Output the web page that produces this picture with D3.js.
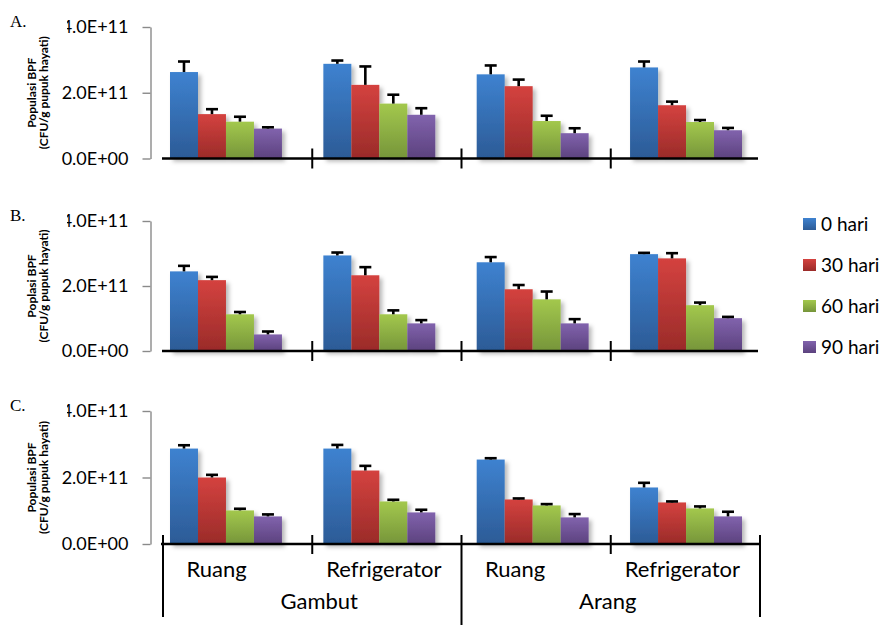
<!DOCTYPE html>
<html>
<head>
<meta charset="utf-8">
<script src="https://cdn.jsdelivr.net/npm/d3@7"></script>
<style>
  html, body { margin: 0; padding: 0; background: #ffffff; }
  svg { display: block; }
</style>
</head>
<body>
<div id="chart"></div>
<script>
// ---------------- DATA ----------------
const panelLabels = ["A.", "B.", "C."];
const yTitleLine1 = ["Populasi BPF", "Poplasi  BPF", "Populasi BPF"];
const yTitleLine2 = "(CFU/g pupuk hayati)";
const series = ["0 hari", "30 hari", "60 hari", "90 hari"];
const subCategories = ["Ruang", "Refrigerator", "Ruang", "Refrigerator"];
const mainCategories = ["Gambut", "Arang"];
const tickValues = [0, 2e11, 4e11];
const tickLabels = ["0.0E+00", "2.0E+11", "4.0E+11"];

// values (x 1e11), rows = groups (Gambut-Ruang, Gambut-Refrigerator, Arang-Ruang, Arang-Refrigerator), cols = series
const valuesA = [[2.63, 1.35, 1.12, 0.91], [2.88, 2.24, 1.67, 1.33], [2.56, 2.20, 1.14, 0.77], [2.77, 1.62, 1.11, 0.86]];
const errorsA = [[0.32, 0.15, 0.15, 0.04], [0.10, 0.56, 0.27, 0.20], [0.27, 0.20, 0.16, 0.15], [0.18, 0.11, 0.06, 0.07]];
const valuesB = [[2.45, 2.18, 1.13, 0.51], [2.94, 2.33, 1.13, 0.85], [2.73, 1.90, 1.59, 0.85], [2.98, 2.85, 1.41, 1.01]];
const errorsB = [[0.17, 0.10, 0.07, 0.09], [0.09, 0.25, 0.12, 0.10], [0.16, 0.13, 0.24, 0.13], [0.04, 0.16, 0.08, 0.04]];
const valuesC = [[2.87, 2.00, 1.01, 0.83], [2.87, 2.21, 1.28, 0.95], [2.54, 1.34, 1.16, 0.80], [1.70, 1.25, 1.07, 0.83]];
const errorsC = [[0.10, 0.08, 0.05, 0.06], [0.11, 0.14, 0.05, 0.08], [0.04, 0.03, 0.04, 0.10], [0.14, 0.03, 0.06, 0.14]];
const panelValues = [valuesA, valuesB, valuesC];
const panelErrors = [errorsA, errorsB, errorsC];
const UNIT = 1e11;

// ---------------- STYLE / LAYOUT ----------------
const W = 882, H = 625;
const colorsTop = ["#3e82d0", "#d4423f", "#a3c84d", "#8163ad"];
const colorsBot = ["#2c5b96", "#9a2b29", "#76953a", "#5c427e"];
const panelY = [ {y0: 158.5, y1: 27}, {y0: 351, y1: 221}, {y0: 544, y1: 411} ];
const yAxisX = 150.5;
const FONT = "Lato, 'Open Sans', sans-serif";

const svg = d3.select("#chart").append("svg").attr("width", W).attr("height", H);
const defs = svg.append("defs");
series.forEach((s, i) => {
  const g = defs.append("linearGradient").attr("id", "grad" + i)
    .attr("x1", 0).attr("y1", 0).attr("x2", 0).attr("y2", 1);
  g.append("stop").attr("offset", "0%").attr("stop-color", colorsTop[i]);
  g.append("stop").attr("offset", "100%").attr("stop-color", colorsBot[i]);
});
const shadow = defs.append("filter").attr("id", "shadow")
  .attr("x", "-20%").attr("y", "-10%").attr("width", "150%").attr("height", "130%");
shadow.append("feDropShadow").attr("dx", 3).attr("dy", 3).attr("stdDeviation", 2)
  .attr("flood-color", "#000").attr("flood-opacity", 0.28);

// x scales
const groupIdx = d3.range(subCategories.length);
const xDiv = d3.scaleBand().domain(groupIdx).range([163, 760]).padding(0);
const xGroup = d3.scaleBand().domain(groupIdx).range([170, 742]).paddingInner(0.27).paddingOuter(0);
const xSeries = d3.scaleBand().domain(d3.range(series.length)).range([0, xGroup.bandwidth()]).padding(0);

panelLabels.forEach((lab, p) => {
  const py = panelY[p];
  const y = d3.scaleLinear().domain([0, 4e11]).range([py.y0, py.y1]);
  const g = svg.append("g");

  // y axis
  const ax = g.append("g").attr("transform", `translate(${yAxisX},0)`)
    .call(d3.axisLeft(y).tickValues(tickValues).tickFormat((d, i) => tickLabels[i]).tickSize(8).tickSizeOuter(0).tickPadding(14));
  ax.select(".domain").attr("stroke", "#8a8a8a").attr("stroke-width", 1.4);
  ax.selectAll(".tick line").attr("stroke", "#8a8a8a").attr("stroke-width", 1.4);
  ax.selectAll(".tick text").attr("font-family", FONT).attr("font-size", 18).attr("fill", "#000");

  // bars
  const vals = panelValues[p], errs = panelErrors[p];
  const flat = [];
  vals.forEach((row, gi) => row.forEach((v, si) => flat.push({gi, si, v: v * UNIT, e: errs[gi][si] * UNIT})));
  g.append("g").attr("filter", "url(#shadow)").selectAll("rect").data(flat).join("rect")
    .attr("x", d => xGroup(d.gi) + xSeries(d.si))
    .attr("width", xSeries.bandwidth())
    .attr("y", d => y(d.v))
    .attr("height", d => y(0) - y(d.v))
    .attr("fill", d => `url(#grad${d.si})`);

  // error bars
  const eg = g.append("g").attr("stroke", "#000").attr("stroke-width", 2.6);
  eg.selectAll("line.v").data(flat).join("line").attr("class", "v")
    .attr("x1", d => xGroup(d.gi) + xSeries(d.si) + xSeries.bandwidth() / 2)
    .attr("x2", d => xGroup(d.gi) + xSeries(d.si) + xSeries.bandwidth() / 2)
    .attr("y1", d => y(d.v)).attr("y2", d => y(d.v + d.e));
  eg.selectAll("line.c").data(flat).join("line").attr("class", "c")
    .attr("x1", d => xGroup(d.gi) + xSeries(d.si) + xSeries.bandwidth() / 2 - 6)
    .attr("x2", d => xGroup(d.gi) + xSeries(d.si) + xSeries.bandwidth() / 2 + 6)
    .attr("y1", d => y(d.v + d.e)).attr("y2", d => y(d.v + d.e));

  // x axis line
  const isLast = p === panelLabels.length - 1;
  g.append("line").attr("x1", isLast ? 161 : 162).attr("x2", isLast ? 761 : 758)
    .attr("y1", y(0)).attr("y2", y(0)).attr("stroke", "#000").attr("stroke-width", 2.6);

  if (!isLast) {
    // divider ticks crossing axis
    g.selectAll("line.div").data(groupIdx.slice(1)).join("line").attr("class", "div")
      .attr("x1", d => xDiv(d)).attr("x2", d => xDiv(d))
      .attr("y1", y(0) - 10).attr("y2", y(0) + 10)
      .attr("stroke", "#000").attr("stroke-width", 2);
  } else {
    // multi-level axis
    const bounds = groupIdx.concat([groupIdx.length]);
    const xb = i => i < groupIdx.length ? xDiv(i) : xDiv.range()[1];
    g.selectAll("line.div").data(bounds).join("line").attr("class", "div")
      .attr("x1", d => xb(d)).attr("x2", d => xb(d))
      .attr("y1", y(0) - 9)
      .attr("y2", d => (d % 2 === 1) ? y(0) + 10 : (d === 2 ? 625 : y(0) + 73))
      .attr("stroke", "#000").attr("stroke-width", 2);
    const subOffset = {"Ruang": -21, "Refrigerator": -3};
    g.selectAll("text.sub").data(subCategories).join("text").attr("class", "sub")
      .attr("x", (d, i) => xDiv(i) + xDiv.bandwidth() / 2 + subOffset[d])
      .attr("y", y(0) + 33)
      .attr("text-anchor", "middle").attr("font-family", FONT).attr("font-size", 22).attr("fill", "#000")
      .text(d => d);
    const mainOffset = [7, -3];
    g.selectAll("text.main").data(mainCategories).join("text").attr("class", "main")
      .attr("x", (d, i) => (xDiv(i * 2) + xb(i * 2 + 2)) / 2 + mainOffset[i])
      .attr("y", y(0) + 65)
      .attr("text-anchor", "middle").attr("font-family", FONT).attr("font-size", 22).attr("fill", "#000")
      .text(d => d);
  }

  // white panel-label box (covers part of the top tick label)
  g.append("rect").attr("x", 0).attr("y", py.y1 - 17).attr("width", 67).attr("height", 25).attr("fill", "#fff");
  g.append("text").attr("x", 10).attr("y", py.y1)
    .attr("font-family", "'Liberation Serif', 'Times New Roman', serif").attr("font-size", 17).attr("fill", "#000")
    .text(lab);

  // y title
  const cy = (py.y0 + py.y1) / 2;
  const t = g.append("text").attr("transform", `translate(0,${cy}) rotate(-90)`)
    .attr("text-anchor", "middle").attr("font-family", FONT).attr("font-weight", "bold").attr("font-size", 12).attr("fill", "#000");
  t.append("tspan").attr("x", 0).attr("y", 36).text(yTitleLine1[p]);
  t.append("tspan").attr("x", 0).attr("y", 48).text(yTitleLine2);
});

// legend
const legendY = d3.scalePoint().domain(series).range([224, 347]);
const lg = svg.append("g");
lg.selectAll("rect").data(series).join("rect")
  .attr("x", 803).attr("y", d => legendY(d) - 6).attr("width", 13).attr("height", 12)
  .attr("fill", (d, i) => `url(#grad${i})`);
lg.selectAll("text").data(series).join("text")
  .attr("x", 821).attr("y", d => legendY(d) + 7)
  .attr("font-family", FONT).attr("font-size", 19).attr("fill", "#000")
  .text(d => d);
</script>
</body>
</html>
